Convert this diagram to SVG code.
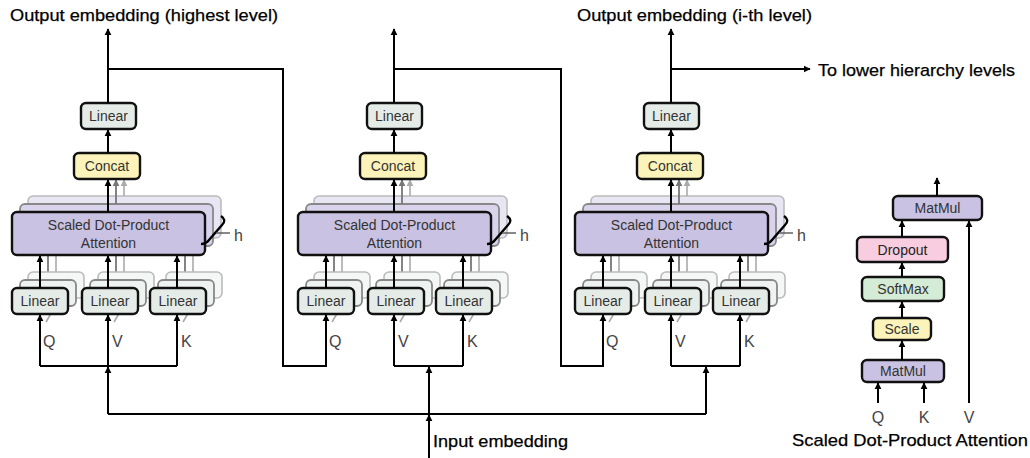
<svg xmlns="http://www.w3.org/2000/svg" width="1030" height="458" viewBox="0 0 1030 458">
<defs>
<style>
.lbl{font-family:"Liberation Sans",Arial,sans-serif;font-size:17px;fill:#000;stroke:#000;stroke-width:0.25}
.nt{font-family:"Liberation Sans",Arial,sans-serif;font-size:14px;fill:#333;text-anchor:middle}
.qk{font-family:"Liberation Sans",Arial,sans-serif;font-size:16px;fill:#444}
.box{stroke:#111;stroke-width:2.4}
.lin{fill:#e5ece8}
.cat{fill:#fbf3b9}
.att{fill:#c9c2e2}
.drop{fill:#f8cde0}
.soft{fill:#d4ebd6}
.s2{stroke:#888;stroke-width:1.8}
.s3{stroke:#bbb;stroke-width:1.6}
.lin2{fill:#eef2f0}
.lin3{fill:#f5f7f6}
.att2{fill:#d9d4ec}
.att3{fill:#e9e6f4}
.c{fill:none;stroke:#000;stroke-width:2}
.g2{fill:none;stroke:#777;stroke-width:1.8}
.g3{fill:none;stroke:#aaa;stroke-width:1.6}
</style>
<marker id="ah" viewBox="0 0 10 10" refX="9" refY="5" markerWidth="7" markerHeight="8" orient="auto" markerUnits="userSpaceOnUse"><path d="M0,0 L10,5 L0,10 z" fill="#000"/></marker>
<marker id="ah2" viewBox="0 0 10 10" refX="9" refY="5" markerWidth="7" markerHeight="8" orient="auto" markerUnits="userSpaceOnUse"><path d="M0,0 L10,5 L0,10 z" fill="#777"/></marker>
<marker id="ah3" viewBox="0 0 10 10" refX="9" refY="5" markerWidth="7" markerHeight="8" orient="auto" markerUnits="userSpaceOnUse"><path d="M0,0 L10,5 L0,10 z" fill="#aaa"/></marker>
<g id="blockTpl">
  <g class="shadowlines">
    <path class="g3" d="M56,272 V238 M124,272 V238 M193,272 V238"/>
    <path class="g2" d="M48,280 V246 M116,280 V246 M185,280 V246"/>
    <path class="g3" d="M56,305 L46,322 M124,305 L114,322 M193,305 L183,322"/>
  </g>
  <g class="att-stack">
    <rect class="att3 s3" x="28" y="196" width="193" height="42" rx="5"/>
    <rect class="att2 s2" x="20" y="204" width="193" height="42" rx="5"/>
  </g>
  <path class="g3" d="M124,196 V180" marker-end="url(#ah3)"/>
  <path class="g2" d="M116,204 V180" marker-end="url(#ah2)"/>
  <g class="lin-stack">
    <rect class="lin3 s3" x="28" y="272" width="56" height="26" rx="5"/>
    <rect class="lin3 s3" x="98" y="272" width="56" height="26" rx="5"/>
    <rect class="lin3 s3" x="166" y="272" width="56" height="26" rx="5"/>
    <rect class="lin2 s2" x="20" y="280" width="56" height="26" rx="5"/>
    <rect class="lin2 s2" x="90" y="280" width="56" height="26" rx="5"/>
    <rect class="lin2 s2" x="158" y="280" width="56" height="26" rx="5"/>
  </g>
</g>
</defs>

<g id="block1">
  <use href="#blockTpl"/>
  <g id="b1-linear-out"><rect class="box lin" x="81" y="103" width="55" height="26" rx="5"/><text class="nt" x="108.5" y="121">Linear</text></g>
  <g id="b1-concat"><rect class="box cat" x="74" y="153" width="66" height="26" rx="5"/><text class="nt" x="107" y="171">Concat</text></g>
  <g id="b1-attention"><rect class="box att" x="12" y="212" width="193" height="43" rx="5"/><text class="nt" x="108.5" y="230">Scaled Dot-Product</text><text class="nt" x="108.5" y="248">Attention</text></g>
  <g id="b1-linear-q"><rect class="box lin" x="12" y="288" width="56" height="26" rx="5"/><text class="nt" x="40" y="306">Linear</text></g>
  <g id="b1-linear-v"><rect class="box lin" x="82" y="288" width="56" height="26" rx="5"/><text class="nt" x="110" y="306">Linear</text></g>
  <g id="b1-linear-k"><rect class="box lin" x="150" y="288" width="56" height="26" rx="5"/><text class="nt" x="178" y="306">Linear</text></g>
  <g id="b1-h"><path d="M221,216 q6,4 1,9 L209,240 q-3,4 -8,4" fill="none" stroke="#000" stroke-width="2.4"/><path d="M216,233 H230" stroke="#555" stroke-width="1.4"/><text class="qk" x="234" y="241">h</text></g>
  <text class="qk" x="43" y="347">Q</text><text class="qk" x="112" y="347">V</text><text class="qk" x="181" y="347">K</text>
</g>

<g id="block2" transform="translate(286,0)">
  <use href="#blockTpl"/>
  <g id="b2-linear-out"><rect class="box lin" x="81" y="103" width="55" height="26" rx="5"/><text class="nt" x="108.5" y="121">Linear</text></g>
  <g id="b2-concat"><rect class="box cat" x="74" y="153" width="66" height="26" rx="5"/><text class="nt" x="107" y="171">Concat</text></g>
  <g id="b2-attention"><rect class="box att" x="12" y="212" width="193" height="43" rx="5"/><text class="nt" x="108.5" y="230">Scaled Dot-Product</text><text class="nt" x="108.5" y="248">Attention</text></g>
  <g id="b2-linear-q"><rect class="box lin" x="12" y="288" width="56" height="26" rx="5"/><text class="nt" x="40" y="306">Linear</text></g>
  <g id="b2-linear-v"><rect class="box lin" x="82" y="288" width="56" height="26" rx="5"/><text class="nt" x="110" y="306">Linear</text></g>
  <g id="b2-linear-k"><rect class="box lin" x="150" y="288" width="56" height="26" rx="5"/><text class="nt" x="178" y="306">Linear</text></g>
  <g id="b2-h"><path d="M221,216 q6,4 1,9 L209,240 q-3,4 -8,4" fill="none" stroke="#000" stroke-width="2.4"/><path d="M216,233 H230" stroke="#555" stroke-width="1.4"/><text class="qk" x="234" y="241">h</text></g>
  <text class="qk" x="43" y="347">Q</text><text class="qk" x="112" y="347">V</text><text class="qk" x="181" y="347">K</text>
</g>

<g id="block3" transform="translate(563,0)">
  <use href="#blockTpl"/>
  <g id="b3-linear-out"><rect class="box lin" x="81" y="103" width="55" height="26" rx="5"/><text class="nt" x="108.5" y="121">Linear</text></g>
  <g id="b3-concat"><rect class="box cat" x="74" y="153" width="66" height="26" rx="5"/><text class="nt" x="107" y="171">Concat</text></g>
  <g id="b3-attention"><rect class="box att" x="12" y="212" width="193" height="43" rx="5"/><text class="nt" x="108.5" y="230">Scaled Dot-Product</text><text class="nt" x="108.5" y="248">Attention</text></g>
  <g id="b3-linear-q"><rect class="box lin" x="12" y="288" width="56" height="26" rx="5"/><text class="nt" x="40" y="306">Linear</text></g>
  <g id="b3-linear-v"><rect class="box lin" x="82" y="288" width="56" height="26" rx="5"/><text class="nt" x="110" y="306">Linear</text></g>
  <g id="b3-linear-k"><rect class="box lin" x="150" y="288" width="56" height="26" rx="5"/><text class="nt" x="178" y="306">Linear</text></g>
  <g id="b3-h"><path d="M221,216 q6,4 1,9 L209,240 q-3,4 -8,4" fill="none" stroke="#000" stroke-width="2.4"/><path d="M216,233 H230" stroke="#555" stroke-width="1.4"/><text class="qk" x="234" y="241">h</text></g>
  <text class="qk" x="43" y="347">Q</text><text class="qk" x="112" y="347">V</text><text class="qk" x="181" y="347">K</text>
</g>

<g id="sdpa">
  <g id="sd-matmul-top"><rect class="box att" x="893" y="196" width="89" height="24" rx="5"/><text class="nt" x="937.5" y="213">MatMul</text></g>
  <g id="sd-dropout"><rect class="box drop" x="857" y="237" width="91" height="25" rx="5"/><text class="nt" x="902.5" y="255" style="fill:#222">Dropout</text></g>
  <g id="sd-softmax"><rect class="box soft" x="862" y="277" width="82" height="24" rx="5"/><text class="nt" x="903" y="294">SoftMax</text></g>
  <g id="sd-scale"><rect class="box cat" x="873" y="318" width="58" height="22" rx="5"/><text class="nt" x="902" y="334">Scale</text></g>
  <g id="sd-matmul-bot"><rect class="box att" x="862" y="360" width="82" height="22" rx="5"/><text class="nt" x="903" y="376">MatMul</text></g>
  <text class="qk" x="878" y="423" text-anchor="middle">Q</text>
  <text class="qk" x="924" y="423" text-anchor="middle">K</text>
  <text class="qk" x="969" y="423" text-anchor="middle">V</text>
</g>

<g id="connectors">
  <g id="block-connectors-1">
    <path class="c" d="M108,103 V29" marker-end="url(#ah)"/>
    <path class="c" d="M108,153 V130" marker-end="url(#ah)"/>
    <path class="c" d="M108,212 V180" marker-end="url(#ah)"/>
    <path class="c" d="M40,288 V256" marker-end="url(#ah)"/>
    <path class="c" d="M108,288 V256" marker-end="url(#ah)"/>
    <path class="c" d="M177,288 V256" marker-end="url(#ah)"/>
    <path class="c" d="M40,366 V315" marker-end="url(#ah)"/>
    <path class="c" d="M108,366 V315" marker-end="url(#ah)"/>
    <path class="c" d="M177,366 V315" marker-end="url(#ah)"/>
    <path class="c" d="M40,366 H177"/>
    <path class="c" d="M108,414 V367" marker-end="url(#ah)"/>
  </g>
  <g id="block-connectors-2">
    <path class="c" d="M394,103 V29" marker-end="url(#ah)"/>
    <path class="c" d="M394,153 V130" marker-end="url(#ah)"/>
    <path class="c" d="M394,212 V180" marker-end="url(#ah)"/>
    <path class="c" d="M326,288 V256" marker-end="url(#ah)"/>
    <path class="c" d="M394,288 V256" marker-end="url(#ah)"/>
    <path class="c" d="M463,288 V256" marker-end="url(#ah)"/>
    <path class="c" d="M394,366 V315" marker-end="url(#ah)"/>
    <path class="c" d="M463,366 V315" marker-end="url(#ah)"/>
    <path class="c" d="M394,366 H463"/>
    <path class="c" d="M429,414 V367" marker-end="url(#ah)"/>
  </g>
  <g id="block-connectors-3">
    <path class="c" d="M671,103 V29" marker-end="url(#ah)"/>
    <path class="c" d="M671,153 V130" marker-end="url(#ah)"/>
    <path class="c" d="M671,212 V180" marker-end="url(#ah)"/>
    <path class="c" d="M603,288 V256" marker-end="url(#ah)"/>
    <path class="c" d="M671,288 V256" marker-end="url(#ah)"/>
    <path class="c" d="M740,288 V256" marker-end="url(#ah)"/>
    <path class="c" d="M671,366 V315" marker-end="url(#ah)"/>
    <path class="c" d="M740,366 V315" marker-end="url(#ah)"/>
    <path class="c" d="M671,366 H740"/>
    <path class="c" d="M706,414 V367" marker-end="url(#ah)"/>
  </g>
  <path class="c" d="M108,69 H283 V366 H326 V315" marker-end="url(#ah)"/>
  <path class="c" d="M394,69 H561 V366 H603 V315" marker-end="url(#ah)"/>
  <path class="c" d="M671,69 H810" marker-end="url(#ah)"/>
  <path class="c" d="M108,414 H706"/>
  <path class="c" d="M429,458 V415" marker-end="url(#ah)"/>
  <path class="c" d="M937,196 V178" marker-end="url(#ah)"/>
  <path class="c" d="M902,237 V221" marker-end="url(#ah)"/>
  <path class="c" d="M902,277 V263" marker-end="url(#ah)"/>
  <path class="c" d="M902,318 V302" marker-end="url(#ah)"/>
  <path class="c" d="M902,360 V341" marker-end="url(#ah)"/>
  <path class="c" d="M878,403 V383" marker-end="url(#ah)"/>
  <path class="c" d="M924,403 V383" marker-end="url(#ah)"/>
  <path class="c" d="M969,403 V221" marker-end="url(#ah)"/>
</g>

<text class="lbl" x="10" y="21" textLength="268" lengthAdjust="spacingAndGlyphs">Output embedding (highest level)</text>
<text class="lbl" x="577" y="21" textLength="235" lengthAdjust="spacingAndGlyphs">Output embedding (i-th level)</text>
<text class="lbl" x="818" y="76" textLength="197" lengthAdjust="spacingAndGlyphs">To lower hierarchy levels</text>
<text class="lbl" x="433" y="447" textLength="135" lengthAdjust="spacingAndGlyphs">Input embedding</text>
<text class="lbl" x="792" y="446" textLength="236" lengthAdjust="spacingAndGlyphs">Scaled Dot-Product Attention</text>
</svg>
